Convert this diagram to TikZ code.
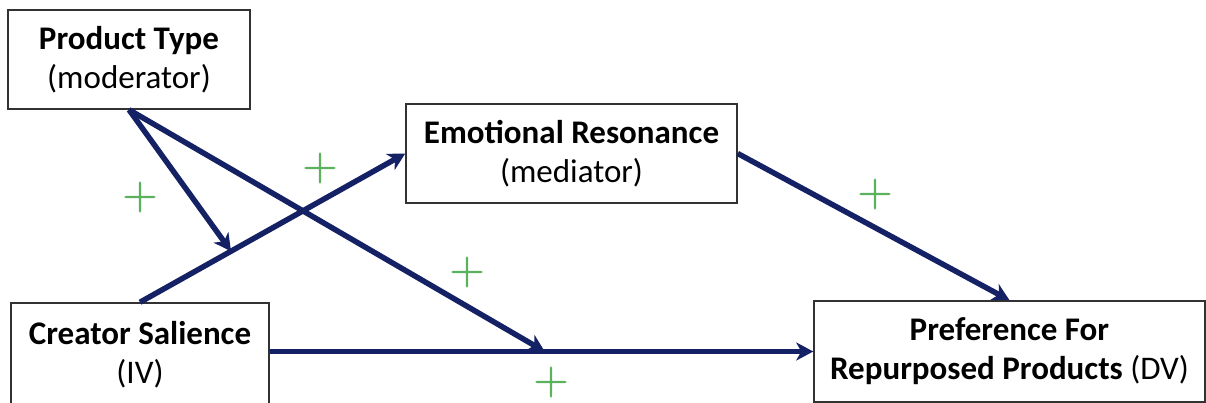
\documentclass[tikz,border=0pt]{standalone}
\usepackage{fontspec}
\setmainfont{Carlito}
\newfontfamily\plusfont{lmroman10-regular}[Extension=.otf,FakeBold=1]
\usetikzlibrary{arrows.meta,calc}
\definecolor{navy}{RGB}{20,33,100}
\definecolor{plusgreen}{RGB}{92,178,92}
\definecolor{boxline}{RGB}{50,50,50}
\begin{document}
\begin{tikzpicture}[x=1pt,y=-1pt,
  box/.style={draw=boxline, line width=1.5pt, align=center, inner sep=0pt,
    font=\fontsize{33}{39}\selectfont},
  link/.style={draw=navy, line width=5.5pt, -{Stealth[length=17pt,width=18pt,inset=5pt]}},
  plus/.style={text=plusgreen, font=\plusfont\fontsize{46}{46}\selectfont, inner sep=0pt}]
\useasboundingbox (0,0) rectangle (1206,403);
\node[box, minimum width=242pt, minimum height=99pt] (pt) at (129,59.5) {\textbf{Product Type}\\(moderator)};
\node[box, minimum width=331pt, minimum height=99pt] (er) at (571.5,153.5) {\textbf{Emotional Resonance}\\(mediator)};
\node[box, minimum width=258pt, minimum height=104pt] (cs) at (140,355) {\textbf{Creator Salience}\\(IV)};
\node[box, minimum width=391pt, minimum height=101pt] (pf) at (1009.5,351.5) {\textbf{Preference For}\\\textbf{Repurposed Products} (DV)};
\coordinate (csr) at (cs.east |- pf.west);
\draw[link] (cs.north) -- (er.west);
\draw[link] (er.east) -- (pf.north);
\draw[link] (csr) -- (pf.west);
\coordinate (m1) at ($(cs.north)!0.343!(er.west)$);
\coordinate (m2) at ($(csr)!0.506!(pf.west)$);
\draw[link] (pt.south) -- (m1);
\draw[link] (pt.south) -- (m2);
\node[plus] (p1) at (140,197) {+};
\node[plus] (p2) at (320,168) {+};
\node[plus] (p3) at (467,272) {+};
\node[plus] (p4) at (875,194) {+};
\node[plus] (p5) at (551,382) {+};
\end{tikzpicture}
\end{document}
